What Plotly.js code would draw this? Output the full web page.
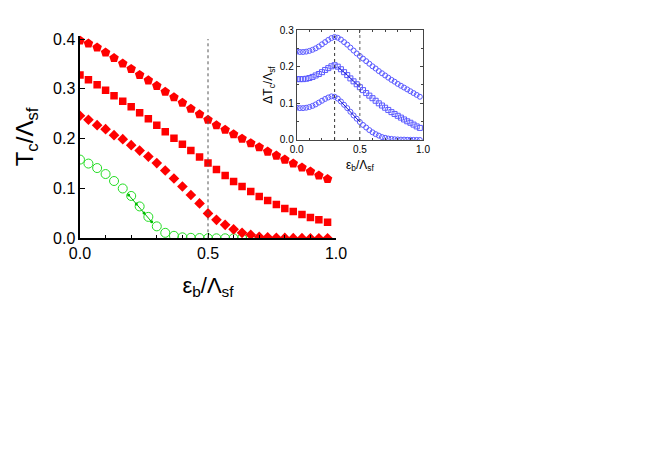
<!DOCTYPE html>
<html>
<head>
<meta charset="utf-8">
<script src="https://cdn.plot.ly/plotly-3.0.1.min.js"></script>
<style>
  html, body { margin: 0; padding: 0; background: #fff; }
  #chart { width: 654px; height: 456px; }
</style>
</head>
<body>
<div id="chart"></div>
<script>
// main panel: Tc/Λsf against εb/Λsf
const mainX = [0, 0.033, 0.067, 0.1, 0.133, 0.167, 0.2, 0.233, 0.267, 0.3,
               0.333, 0.367, 0.4, 0.433, 0.467, 0.5, 0.533, 0.567, 0.6, 0.633,
               0.667, 0.7, 0.733, 0.767, 0.8, 0.833, 0.867, 0.9, 0.933, 0.967];
const tcPent = [0.397, 0.391, 0.383, 0.373, 0.362, 0.351, 0.340, 0.328, 0.317, 0.306,
                0.294, 0.283, 0.272, 0.260, 0.249, 0.238, 0.227, 0.218, 0.209, 0.200,
                0.191, 0.183, 0.174, 0.166, 0.158, 0.150, 0.142, 0.134, 0.126, 0.119];
const tcSquare = [0.328, 0.318, 0.308, 0.297, 0.286, 0.275, 0.264, 0.252, 0.240, 0.227,
                  0.214, 0.201, 0.189, 0.176, 0.163, 0.151, 0.138, 0.126, 0.114, 0.104,
                  0.094, 0.084, 0.076, 0.068, 0.060, 0.054, 0.048, 0.042, 0.037, 0.032];
const tcDiamond = [0.246, 0.238, 0.227, 0.219, 0.207, 0.199, 0.187, 0.176, 0.164, 0.151,
                   0.136, 0.120, 0.104, 0.087, 0.070, 0.050, 0.037, 0.027, 0.018, 0.011,
                   0.007, 0.003, 0.002, 0.001, 0.0007, 0.0003, 0.0002, 0.0001, 0, 0];
const greenX = [0, 0.033, 0.067, 0.1, 0.133, 0.167, 0.2, 0.233, 0.267, 0.3,
                0.333, 0.367, 0.4, 0.433, 0.467, 0.5, 0.533, 0.567, 0.6, 0.633, 0.667];
const tcGreen = [0.158, 0.150, 0.141, 0.129, 0.115, 0.100, 0.085, 0.064, 0.043, 0.024,
                 0.011, 0.005, 0.002, 0.001, 0.0005, 0, 0, 0, 0, 0, 0];
const greenLineX = [0.19, 0.22, 0.25, 0.28];
const greenLineY = [0.087, 0.069, 0.051, 0.033];

// inset: ΔTc/Λsf against εb/Λsf
const insetX = [0, 0.025, 0.05, 0.075, 0.1, 0.125, 0.15, 0.175, 0.2, 0.225,
                0.25, 0.275, 0.3, 0.325, 0.35, 0.375, 0.4, 0.425, 0.45, 0.475,
                0.5, 0.525, 0.55, 0.575, 0.6, 0.625, 0.65, 0.675, 0.7, 0.725,
                0.75, 0.775, 0.8, 0.825, 0.85, 0.875, 0.9, 0.925, 0.95, 0.975];
const dtTop = [0.241, 0.240, 0.240, 0.241, 0.243, 0.246, 0.250, 0.255, 0.261, 0.267,
               0.273, 0.278, 0.281, 0.279, 0.274, 0.267, 0.260, 0.252, 0.244, 0.236,
               0.229, 0.222, 0.215, 0.208, 0.201, 0.195, 0.188, 0.182, 0.176, 0.170,
               0.164, 0.159, 0.153, 0.148, 0.143, 0.138, 0.133, 0.128, 0.123, 0.118];
const dtMid = [0.166, 0.166, 0.166, 0.167, 0.169, 0.172, 0.176, 0.180, 0.185, 0.191,
               0.196, 0.201, 0.204, 0.200, 0.193, 0.185, 0.177, 0.168, 0.160, 0.152,
               0.144, 0.136, 0.128, 0.121, 0.114, 0.107, 0.100, 0.094, 0.088, 0.082,
               0.076, 0.071, 0.066, 0.061, 0.056, 0.051, 0.047, 0.042, 0.037, 0.033];
const dtLow = [0.088, 0.087, 0.087, 0.088, 0.090, 0.093, 0.097, 0.102, 0.107, 0.112,
               0.116, 0.119, 0.118, 0.113, 0.105, 0.096, 0.087, 0.077, 0.067, 0.058,
               0.049, 0.041, 0.034, 0.027, 0.021, 0.016, 0.012, 0.008, 0.006, 0.004,
               0.003, 0.002, 0.0015, 0.001, 0.001, 0.0005, 0.0005, 0.0003, 0.0002, 0.0001];
const midLineX = [0.33, 0.4, 0.5];
const midLineY = [0.198, 0.177, 0.144];
const lowLineX = [0.33, 0.4, 0.5];
const lowLineY = [0.112, 0.087, 0.049];

const red = '#ff0000';
const green = '#22dd22';
const blue = '#5a5aff';
const font = 'Liberation Sans, Arial, sans-serif';

const traces = [
    { x: greenX, y: tcGreen, mode: 'markers', type: 'scatter',
      marker: { symbol: 'circle-open', size: 9, color: green, line: { width: 1, color: green } } },
    { x: greenLineX, y: greenLineY, mode: 'lines+markers', type: 'scatter',
      line: { color: '#00bb00', width: 1 }, marker: { size: 3, color: '#00bb00' } },
    { x: mainX, y: tcDiamond, mode: 'markers', type: 'scatter',
      marker: { symbol: 'diamond', size: 8.2, color: red, line: { width: 0 } } },
    { x: mainX, y: tcSquare, mode: 'markers', type: 'scatter',
      marker: { symbol: 'square', size: 7.5, color: red, line: { width: 0 } } },
    { x: mainX, y: tcPent, mode: 'markers', type: 'scatter',
      marker: { symbol: 'pentagon', size: 10, color: red, line: { width: 0 } } },

    { x: insetX, y: dtTop, xaxis: 'x2', yaxis: 'y2', mode: 'markers', type: 'scatter',
      marker: { symbol: 'circle-open', size: 5, color: blue, line: { width: 1, color: blue } } },
    { x: insetX, y: dtMid, xaxis: 'x2', yaxis: 'y2', mode: 'markers', type: 'scatter',
      marker: { symbol: 'square-open', size: 5, color: blue, line: { width: 1, color: blue } } },
    { x: insetX, y: dtLow, xaxis: 'x2', yaxis: 'y2', mode: 'markers', type: 'scatter',
      marker: { symbol: 'circle-open', size: 5, color: blue, line: { width: 1, color: blue } } },
    { x: midLineX, y: midLineY, xaxis: 'x2', yaxis: 'y2', mode: 'lines', type: 'scatter',
      line: { color: '#1a1acc', width: 1 } },
    { x: lowLineX, y: lowLineY, xaxis: 'x2', yaxis: 'y2', mode: 'lines', type: 'scatter',
      line: { color: '#1a1acc', width: 1 } }
];

const layout = {
    width: 654,
    height: 456,
    showlegend: false,
    paper_bgcolor: '#fff',
    plot_bgcolor: 'rgba(0,0,0,0)',
    margin: { l: 0, r: 0, t: 0, b: 0 },
    font: { family: font, color: '#000' },
    xaxis: {
        domain: [0.1223, 0.5138], range: [0, 1], anchor: 'y',
        showgrid: false, zeroline: false, showline: true, linecolor: '#000', linewidth: 1.5,
        tickvals: [0, 0.5, 1], ticktext: ['0.0', '0.5', '1.0'],
        ticks: 'inside', ticklen: 5, tickcolor: '#000',
        minor: { dtick: 0.1, ticks: 'inside', ticklen: 3, tickcolor: '#000' },
        tickfont: { size: 16 },
        title: { text: 'ε<sub>b</sub>/Λ<sub>sf</sub>', font: { size: 22 }, standoff: 16 }
    },
    yaxis: {
        domain: [0.4774, 0.9221], range: [0, 0.407], anchor: 'x',
        showgrid: false, zeroline: false, showline: true, linecolor: '#000', linewidth: 1.5,
        dtick: 0.1, tickformat: '.1f',
        ticks: 'inside', ticklen: 5, tickcolor: '#000',
        tickfont: { size: 16 },
        title: { text: 'T<sub>c</sub>/Λ<sub>sf</sub>', font: { size: 24 }, standoff: 12 }
    },
    xaxis2: {
        domain: [0.4537, 0.6468], range: [0, 1], anchor: 'y2',
        showgrid: false, zeroline: false, showline: true, mirror: 'allticks',
        linecolor: '#444', linewidth: 1,
        tickvals: [0, 0.5, 1], ticktext: ['0.0', '0.5', '1.0'],
        ticks: 'inside', ticklen: 3, tickcolor: '#444',
        minor: { dtick: 0.1, ticks: 'inside', ticklen: 2, tickcolor: '#444' },
        tickfont: { size: 10 },
        title: { text: 'ε<sub>b</sub>/Λ<sub>sf</sub>', font: { size: 12 }, standoff: 6 }
    },
    yaxis2: {
        domain: [0.693, 0.9342], range: [0, 0.3], anchor: 'x2',
        showgrid: false, zeroline: false, showline: true, mirror: 'allticks',
        linecolor: '#444', linewidth: 1,
        dtick: 0.1, tickformat: '.1f',
        ticks: 'inside', ticklen: 3, tickcolor: '#444',
        minor: { dtick: 0.05, ticks: 'inside', ticklen: 2, tickcolor: '#444' },
        tickfont: { size: 10 },
        title: { text: 'ΔT<sub>c</sub>/Λ<sub>sf</sub>', font: { size: 12 }, standoff: 4 }
    },
    shapes: [
        { type: 'line', xref: 'x', yref: 'y', x0: 0.5, x1: 0.5, y0: 0, y1: 0.4,
          line: { color: '#555', width: 1, dash: 'dot' } },
        { type: 'line', xref: 'x2', yref: 'y2', x0: 0.3, x1: 0.3, y0: 0, y1: 0.285,
          line: { color: '#333', width: 1, dash: 'dot' } },
        { type: 'line', xref: 'x2', yref: 'y2', x0: 0.5, x1: 0.5, y0: 0, y1: 0.3,
          line: { color: '#555', width: 1, dash: 'dot' } }
    ]
};

Plotly.newPlot('chart', traces, layout, { staticPlot: true });
</script>
</body>
</html>
